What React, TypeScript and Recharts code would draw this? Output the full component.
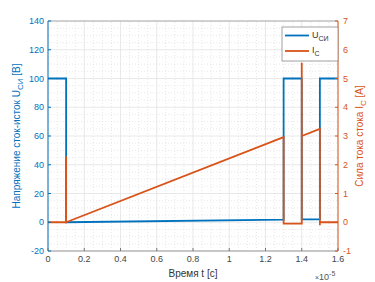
import React from "react";
import { LineChart, Line, XAxis, YAxis, CartesianGrid, ReferenceLine } from "recharts";

// time in units of 1e-5 s
const uTime = [0, 0.1, 0.1, 1.3, 1.3, 1.4, 1.4, 1.5, 1.5, 1.6];
const uValues = [100, 100, 0, 1.8, 100, 100, 2, 2, 100, 100];

const iTime = [0, 0.1, 0.1, 0.1, 1.3, 1.3, 1.4, 1.4, 1.4, 1.5, 1.5, 1.5, 1.6];
const iValues = [0, 0, 2.3, 0, 2.96, -0.05, -0.05, 5.55, 3.0, 3.25, -0.1, 0, 0];

const xTicks = [0, 0.2, 0.4, 0.6, 0.8, 1, 1.2, 1.4, 1.6];
const leftTicks = [-20, 0, 20, 40, 60, 80, 100, 120, 140];
const rightTicks = [-1, 0, 1, 2, 3, 4, 5, 6, 7];

const BLUE = "#0072BD";
const ORANGE = "#D95319";
const FONT = "'Liberation Sans', Arial, sans-serif";

const uData = uTime.map((t, k) => ({ t, u: uValues[k] }));
const iData = iTime.map((t, k) => ({ t, i: iValues[k] }));

const xMinor: number[] = [];
for (let k = 0; k <= 32; k++) if (k % 4 !== 0) xMinor.push(k * 0.05);
const yMinor: number[] = [];
for (let v = -20; v <= 140; v += 5) if (v % 20 !== 0) yMinor.push(v);

const fmtX = (v: number) => (v === 0 ? "0" : v === 1 ? "1" : v.toFixed(1));

const XTick = (p: any) => (
  <g>
    <line x1={p.x} x2={p.x} y1={p.y} y2={p.y - 3} stroke="#777" />
    <text x={p.x} y={p.y + 11} textAnchor="middle" fontSize={9} fontFamily={FONT} fill="#444">
      {fmtX(p.payload.value)}
    </text>
  </g>
);

const LeftTick = (p: any) => (
  <g>
    <line x1={p.x} x2={p.x + 3} y1={p.y} y2={p.y} stroke={BLUE} />
    <text x={p.x - 4} y={p.y + 3} textAnchor="end" fontSize={9} fontFamily={FONT} fill={BLUE}>
      {p.payload.value}
    </text>
  </g>
);

const RightTick = (p: any) => (
  <g>
    <line x1={p.x} x2={p.x - 3} y1={p.y} y2={p.y} stroke={ORANGE} />
    <text x={p.x + 5} y={p.y + 3} textAnchor="start" fontSize={9} fontFamily={FONT} fill={ORANGE}>
      {p.payload.value}
    </text>
  </g>
);

export default function App() {
  return (
    <div style={{ position: "absolute", left: 0, top: 0, width: 375, height: 282, background: "#fff" }}>
      <LineChart
        width={375}
        height={282}
        margin={{ top: 21, right: 7, bottom: 11, left: 8 }}
      >
        <CartesianGrid yAxisId="left" stroke="#e3e3e3" strokeWidth={0.8} />
        {xMinor.map((x) => (
          <ReferenceLine key={"vx" + x} x={x} yAxisId="left" stroke="#d8d8d8" strokeWidth={0.6} strokeDasharray="1 2" />
        ))}
        {yMinor.map((y) => (
          <ReferenceLine key={"hy" + y} y={y} yAxisId="left" stroke="#d8d8d8" strokeWidth={0.6} strokeDasharray="1 2" />
        ))}
        <ReferenceLine y={140} yAxisId="left" stroke="#9a9a9a" strokeWidth={0.8} />
        <XAxis
          dataKey="t"
          type="number"
          domain={[0, 1.6]}
          ticks={xTicks}
          allowDuplicatedCategory={false}
          height={20}
          tickSize={0}
          tickMargin={0}
          tick={XTick}
          stroke="#9a9a9a"
        />
        <YAxis
          yAxisId="left"
          domain={[-20, 140]}
          ticks={leftTicks}
          width={40}
          tickSize={0}
          tickMargin={0}
          tick={LeftTick}
          stroke={BLUE}
        />
        <YAxis
          yAxisId="right"
          orientation="right"
          domain={[-1, 7]}
          ticks={rightTicks}
          width={30}
          tickSize={0}
          tickMargin={0}
          tick={RightTick}
          stroke={ORANGE}
        />
        <Line
          yAxisId="left"
          data={uData}
          dataKey="u"
          type="linear"
          stroke={BLUE}
          strokeWidth={1.8}
          dot={false}
          isAnimationActive={false}
        />
        <Line
          yAxisId="right"
          data={iData}
          dataKey="i"
          type="linear"
          stroke={ORANGE}
          strokeWidth={1.8}
          dot={false}
          isAnimationActive={false}
        />
      </LineChart>
      <svg
        width={375}
        height={282}
        style={{ position: "absolute", left: 0, top: 0, pointerEvents: "none" }}
        fontFamily={FONT}
      >
        <text transform="translate(20,136) rotate(-90)" textAnchor="middle" fontSize={10} fill={BLUE}>
          Напряжение сток-исток U<tspan dy={3} fontSize={8}>СИ</tspan>
          <tspan dy={-3}> [В]</tspan>
        </text>
        <text transform="translate(363,136) rotate(-90)" textAnchor="middle" fontSize={10} fill={ORANGE}>
          Сила тока стока I<tspan dy={3} fontSize={8}>С</tspan>
          <tspan dy={-3}> [A]</tspan>
        </text>
        <text x={193} y={277} textAnchor="middle" fontSize={10} fill="#333">
          Время t [с]
        </text>
        <text x={315} y={280} fontSize={9} fill="#555">
          <tspan fontSize={7}>×</tspan>10<tspan dy={-4} fontSize={7}>-5</tspan>
        </text>
        <rect x={282} y={27} width={56} height={34} fill="#fff" stroke="#8a8a8a" strokeWidth={0.8} />
        <line x1={285} x2={309} y1={35.5} y2={35.5} stroke={BLUE} strokeWidth={1.8} />
        <text x={312} y={38} fontSize={9} fill="#333">
          U<tspan dy={2.5} fontSize={7}>СИ</tspan>
        </text>
        <line x1={285} x2={309} y1={51} y2={51} stroke={ORANGE} strokeWidth={1.8} />
        <text x={312} y={53} fontSize={9} fill="#333">
          I<tspan dy={2.5} fontSize={7}>С</tspan>
        </text>
      </svg>
    </div>
  );
}
